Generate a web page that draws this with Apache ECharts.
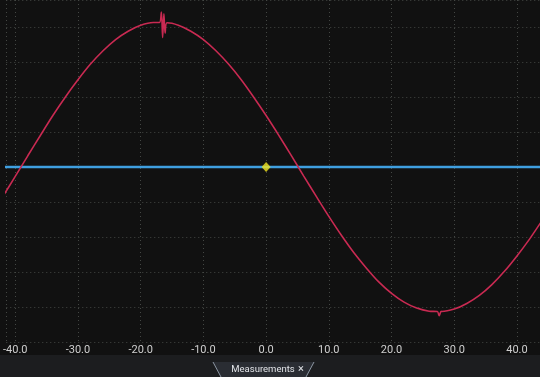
<!DOCTYPE html>
<html>
<head>
<meta charset="utf-8">
<script src="https://cdn.jsdelivr.net/npm/echarts@6/dist/echarts.min.js"></script>
<style>
html,body{margin:0;padding:0;background:#111111;}
#chart{width:540px;height:377px;}
</style>
</head>
<body>
<div id="chart"></div>
<script>
// Time (x) values and red channel values (in divisions)
var redT = [-42,-40,-38,-36,-34,-32,-30,-28,-26,-24,-22,-20,-18,-17,-16.7,-16.5,-16.3,-16.1,-15.8,-14,-12,-10,-8,-6,-4,-2,0,2,4,6,8,10,12,14,16,18,20,22,24,26,27.3,27.6,27.9,28,30,32,34,36,38,40,42,44];
var redV = [-0.85,-0.27,0.32,0.90,1.47,2.00,2.49,2.94,3.32,3.64,3.88,4.05,4.13,4.13,4.43,3.70,4.38,3.82,4.12,4.05,3.88,3.64,3.32,2.94,2.50,2.00,1.47,0.91,0.33,-0.26,-0.84,-1.41,-1.95,-2.45,-2.89,-3.29,-3.61,-3.86,-4.03,-4.12,-4.13,-4.25,-4.12,-4.13,-4.06,-3.90,-3.67,-3.36,-2.98,-2.54,-2.06,-1.53];
// Blue channel (flat)
var blueT = [-42,-20,0,20,44];
var blueV = [0,0,0,0,0];
// Trigger marker
var markerT = [0];
var markerV = [0];
// X tick labels
var xTicks = [-40,-30,-20,-10,0,10,20,30,40];

var chart = echarts.init(document.getElementById('chart'), null, {renderer:'canvas'});
function zip(a,b){return a.map(function(v,i){return [v,b[i]];});}
var gridStyle = {show:true,lineStyle:{color:'#444744',width:1,type:[1,3]}};
chart.setOption({
  backgroundColor:'#111111',
  animation:false,
  grid:{left:0,right:0,top:0,bottom:35,containLabel:false},
  xAxis:{type:'value',min:-41.43,max:43.67,splitNumber:8,minInterval:10,maxInterval:10,
    axisLine:{show:false},axisTick:{show:false},
    splitLine:gridStyle,
    axisLabel:{show:true,color:'#cfcfcf',fontSize:11,fontFamily:'Roboto',margin:3,
      showMinLabel:false,showMaxLabel:false,
      formatter:function(v){return xTicks.indexOf(Math.round(v*1000)/1000)>=0?v.toFixed(1):'';}}
  },
  yAxis:{type:'value',min:-5,max:4.771,splitNumber:10,minInterval:1,maxInterval:1,
    axisLine:{show:false},axisTick:{show:false},axisLabel:{show:false},
    splitLine:gridStyle
  },
  series:[
    {type:'line',data:zip(blueT,blueV),showSymbol:false,silent:true,
      lineStyle:{color:'#3f9fe0',width:2.5},z:2},
    {type:'line',data:zip(redT,redV),showSymbol:false,smooth:0.3,silent:true,
      lineStyle:{color:'#c92a52',width:1.6},z:3},
    {type:'scatter',data:zip(markerT,markerV),symbol:'diamond',symbolSize:[9,10],
      itemStyle:{color:'#f3e31e'},z:4}
  ],
  graphic:[
    {type:'rect',shape:{x:0,y:355,width:540,height:22},style:{fill:'#1c1d1f'},z:10},
    {type:'polygon',shape:{points:[[213,362],[314,362],[306,377],[221,377]]},
      style:{fill:'#2a2d33',stroke:null},z:11},
    {type:'polyline',shape:{points:[[213,362],[221,377]]},style:{stroke:'#8c96a3',lineWidth:1},z:12},
    {type:'polyline',shape:{points:[[314,362],[306,377]]},style:{stroke:'#8c96a3',lineWidth:1},z:12},
    {type:'text',x:263,y:370,style:{text:'Measurements',fill:'#e2e4e8',fontSize:9.5,fontFamily:'Roboto',align:'center',verticalAlign:'middle'},z:13},
    {type:'text',x:301,y:369,style:{text:'\u00d7',fill:'#e2e4e8',fontSize:11,fontFamily:'Roboto',align:'center',verticalAlign:'middle'},z:13}
  ]
});
</script>
</body>
</html>
